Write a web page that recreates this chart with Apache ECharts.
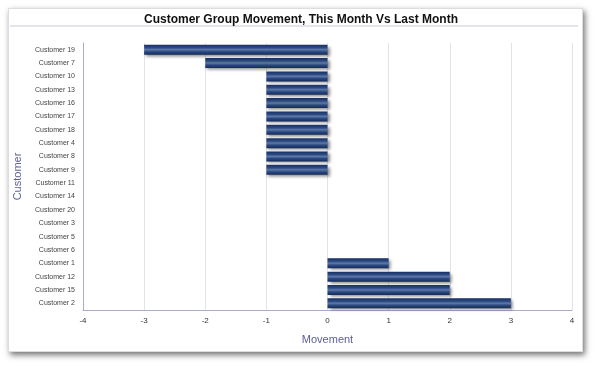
<!DOCTYPE html>
<html><head><meta charset="utf-8">
<script src="https://cdn.jsdelivr.net/npm/echarts@6/dist/echarts.min.js"></script>
<style>
html,body{margin:0;padding:0;background:#fff;width:600px;height:366px;overflow:hidden;}
#card{position:absolute;left:8px;top:8px;width:575px;height:344px;background:#fff;box-shadow:2px 3px 6px rgba(0,0,0,0.55);border:1px solid #ddd;box-sizing:border-box;}
#chart{position:absolute;left:0;top:0;width:600px;height:366px;}
</style></head>
<body>
<div id="card"></div>
<div id="chart"></div>
<script>
var categories = ["Customer 19","Customer 7","Customer 10","Customer 13","Customer 16","Customer 17","Customer 18","Customer 4","Customer 8","Customer 9","Customer 11","Customer 14","Customer 20","Customer 3","Customer 5","Customer 6","Customer 1","Customer 12","Customer 15","Customer 2"];
var movement = [-3,-2,-1,-1,-1,-1,-1,-1,-1,-1,0,0,0,0,0,0,1,2,2,3];
var xTicks = [-4,-3,-2,-1,0,1,2,3,4];

var chart = echarts.init(document.getElementById('chart'), null, {renderer:'canvas'});
chart.setOption({
  animation:false,
  title:{text:'Customer Group Movement, This Month Vs Last Month',left:296,top:9,textAlign:'center',
    textStyle:{fontFamily:'Liberation Sans, Arial, sans-serif',fontSize:12,fontWeight:'bold',color:'#111'}},
  graphic:[{type:'line',shape:{x1:10,y1:26,x2:578,y2:26},style:{stroke:'#c8c8dc',lineWidth:1}}],
  grid:{left:83,right:28,top:43,bottom:56,containLabel:false},
  xAxis:{type:'value',min:xTicks[0],max:xTicks[xTicks.length-1],interval:1,
    name:'Movement',nameLocation:'middle',nameGap:24,
    nameTextStyle:{color:'#5b5f96',fontSize:11,fontFamily:'Liberation Sans, Arial, sans-serif'},
    axisLine:{show:true,lineStyle:{color:'#a9abc9',width:1}},
    axisTick:{show:false},
    axisLabel:{color:'#333',fontSize:8,margin:7,fontFamily:'Liberation Sans, Arial, sans-serif'},
    splitLine:{show:true,lineStyle:{color:'#e2e2ea',width:1}}},
  yAxis:{type:'category',data:categories,inverse:true,
    name:'Customer',nameLocation:'middle',nameGap:60,
    nameTextStyle:{color:'#5b5f96',fontSize:11,fontFamily:'Liberation Sans, Arial, sans-serif'},
    axisLine:{show:true,onZero:false,lineStyle:{color:'#a9abc9',width:1}},
    axisTick:{show:false},
    axisLabel:{color:'#444',fontSize:7,margin:8,fontFamily:'Liberation Sans, Arial, sans-serif'},
    splitLine:{show:false}},
  series:[{type:'bar',data:movement,barWidth:10,
    itemStyle:{
      color:new echarts.graphic.LinearGradient(0,0,0,1,[
        {offset:0,color:'#173063'},{offset:0.3,color:'#2c4a82'},{offset:0.5,color:'#5d79a8'},
        {offset:0.7,color:'#2c4a82'},{offset:1,color:'#132a58'}]),
      shadowColor:'rgba(0,0,0,0.45)',shadowBlur:3,shadowOffsetX:2,shadowOffsetY:2}
  }]
});
</script>
</body></html>
